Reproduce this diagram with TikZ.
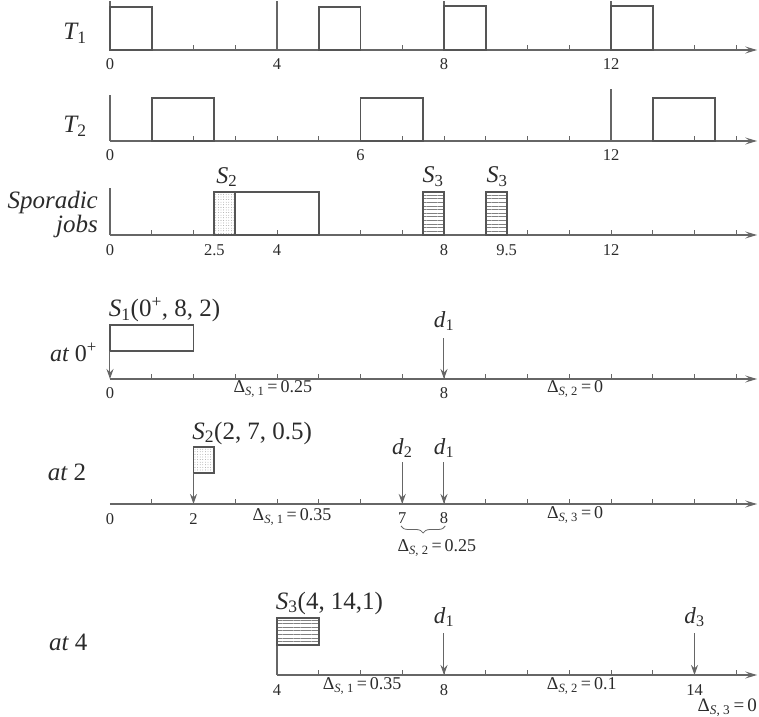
\documentclass[tikz,border=0pt]{standalone}
\usepackage{fontspec}
\setmainfont{Liberation Serif}
\usetikzlibrary{arrows.meta,patterns.meta,decorations.pathreplacing}
\definecolor{ln}{HTML}{666666}
\definecolor{bx}{HTML}{555555}
\definecolor{tx}{HTML}{2B2B2B}
\newcommand{\dlab}[2]{Δ\textsubscript{\textit{S}, #1}\,=\,#2}
\begin{document}
\begin{tikzpicture}[x=41.75pt,y=-1pt,
  axis/.style={draw=ln, line width=1.1pt, -{Stealth[length=12pt,width=7pt,inset=5pt]}},
  tick/.style={draw=ln, line width=0.9pt},
  rel/.style={draw=ln, line width=1.1pt},
  job/.style={draw=bx, line width=1.8pt},
  dotjob/.style={job, pattern={Dots[distance=2.6pt,radius=0.4pt]}, pattern color=gray},
  hatjob/.style={job, pattern={Lines[angle=0,distance=3.6pt,line width=0.5pt]}, pattern color=gray},
  darr/.style={draw=ln, line width=1pt, -{Stealth[length=10pt,width=7pt,inset=3.5pt]}},
  num/.style={text=tx, font=\fontsize{16.5}{18}\selectfont, inner sep=0pt},
  del/.style={text=tx, font=\fontsize{18}{20}\selectfont, inner sep=0pt},
  rowlab/.style={text=tx, font=\fontsize{25}{27}\selectfont\itshape, inner sep=0pt},
  slab/.style={text=tx, font=\fontsize{24}{26}\selectfont, inner sep=0pt},
  joblab/.style={text=tx, font=\fontsize{25}{27}\selectfont, inner sep=0pt},
  dl/.style={text=tx, font=\fontsize{23}{25}\selectfont, inner sep=0pt}]
\path[use as bounding box] (-2.6347,0) rectangle (15.545,717);

% ---------------- T1 ----------------
\node[rowlab] (lT1) at (-0.84,33) {T\textsubscript{\upshape 1}};
\draw[axis] (0,50) -- (15.5,50);
\foreach \t in {1,2,3,5,6,7,9,10,11,13,14,15} \draw[tick] (\t,50) -- (\t,45);
\foreach \t in {0,4,8,12} \draw[rel] (\t,50) -- (\t,1);
\foreach \t/\top in {0/7,5/7,8/6,12/6} \draw[job] (\t,\top) rectangle (\t+1,50);
\foreach \t in {0,4,8,12} \node[num] (a\t) at (\t,64) {\t};

% ---------------- T2 ----------------
\node[rowlab] (lT2) at (-0.84,126) {T\textsubscript{\upshape 2}};
\draw[axis] (0,141) -- (15.5,141);
\foreach \t in {1,...,11,13,14,15} \draw[tick] (\t,141) -- (\t,136);
\draw[rel] (0,141) -- (0,95);
\draw[rel] (12,141) -- (12,89);
\foreach \t in {1,6,13} \draw[job] (\t,98) rectangle (\t+1.5,141);
\foreach \t in {0,6,12} \node[num] (b\t) at (\t,155) {\t};

% ---------------- Sporadic ----------------
\node[rowlab, anchor=east] (lsp) at (-0.287,202) {Sporadic};
\node[rowlab, anchor=east] (ljb) at (-0.287,226) {jobs};
\draw[axis] (0,235) -- (15.5,235);
\foreach \t in {1,...,15} \draw[tick] (\t,235) -- (\t,230);
\draw[rel] (0,235) -- (0,188);
\draw[dotjob] (2.5,192) rectangle (3,235);
\draw[job] (3,192) rectangle (5,235);
\draw[hatjob] (7.5,192) rectangle (8,235);
\draw[hatjob] (9,192) rectangle (9.5,235);
\node[slab] (sS2) at (2.8,177) {\textit{S}\textsubscript{2}};
\node[slab] (sS3a) at (7.74,177) {\textit{S}\textsubscript{3}};
\node[slab] (sS3b) at (9.27,177) {\textit{S}\textsubscript{3}};
\foreach \t/\s in {0/0,2.5/2.5,4/4,8/8,9.5/9.5,12/12} \node[num] at (\t,250) {\s};

% ---------------- at 0+ ----------------
\node[rowlab, anchor=east, font=\fontsize{24}{26}\selectfont\itshape] (l0) at (-0.311,352) {at {\upshape 0\textsuperscript{+}}};
\draw[axis] (0,379) -- (15.5,379);
\foreach \t in {1,...,15} \draw[tick] (\t,379) -- (\t,374);
\draw[job] (0,325) rectangle (2,351);
\coordinate (s1b) at (0,351);
\coordinate (s1a) at (0,379);
\draw[darr] (s1b) -- (s1a);
\node[joblab, anchor=west] (jS1) at (-0.03,310) {\textit{S}\textsubscript{1}(0\textsuperscript{+}, 8, 2)};
\node[dl] (d1a) at (8,321) {\textit{d}\textsubscript{1}};
\coordinate (d1at) at (8,379);
\draw[darr] (8,338) -- (d1at);
\node[num] at (0,393) {0};
\node[num] at (8,393) {8};
\node[del] at (3.9,389) {\dlab{1}{0.25}};
\node[del] at (11.14,389) {\dlab{2}{0}};

% ---------------- at 2 ----------------
\node[rowlab] (l2) at (-1.03,472) {at {\upshape 2}};
\draw[axis] (0,504) -- (15.5,504);
\foreach \t in {1,...,15} \draw[tick] (\t,504) -- (\t,499);
\draw[dotjob] (2,447) rectangle (2.5,473);
\coordinate (s2b) at (2,473);
\coordinate (s2a) at (2,504);
\draw[darr] (s2b) -- (s2a);
\node[joblab, anchor=west] (jS2) at (1.97,433) {\textit{S}\textsubscript{2}(2, 7, 0.5)};
\node[dl] (d2b) at (7,448) {\textit{d}\textsubscript{2}};
\node[dl] (d1b) at (8,448) {\textit{d}\textsubscript{1}};
\coordinate (d2bt) at (7,504);
\coordinate (d1bt) at (8,504);
\draw[darr] (7,462) -- (d2bt);
\draw[darr] (8,462) -- (d1bt);
\node[num] at (0,519) {0};
\node[num] at (2,519) {2};
\node[num] (n7) at (7,518) {7};
\node[num] (n8) at (8,518) {8};
\node[del] at (4.36,517) {\dlab{1}{0.35}};
\node[del] at (11.14,515) {\dlab{3}{0}};
\draw[draw=ln, line width=0.8pt, decorate, decoration={brace, mirror, amplitude=7pt}] (6.97,526) -- (8.03,526);
\node[del] at (7.83,548) {\dlab{2}{0.25}};

% ---------------- at 4 ----------------
\node[rowlab] (l4) at (-1.0,642) {at {\upshape 4}};
\draw[axis] (4,675) -- (15.5,675);
\foreach \t in {5,...,15} \draw[tick] (\t,675) -- (\t,670);
\draw[rel] (4,675) -- (4,618);
\draw[hatjob] (4,618) rectangle (5,645);
\node[joblab, anchor=west] (jS3) at (3.97,603) {\textit{S}\textsubscript{3}(4, 14,1)};
\node[dl] (d1c) at (8,617) {\textit{d}\textsubscript{1}};
\node[dl] (d3c) at (14,617) {\textit{d}\textsubscript{3}};
\coordinate (d1ct) at (8,675);
\coordinate (d3ct) at (14,675);
\draw[darr] (8,633) -- (d1ct);
\draw[darr] (14,633) -- (d3ct);
\node[num] at (4,690) {4};
\node[num] at (8,690) {8};
\node[num] at (14,690) {14};
\node[del] at (6.04,686) {\dlab{1}{0.35}};
\node[del] at (11.3,686) {\dlab{2}{0.1}};
\node[del, anchor=east, font=\fontsize{19}{21}\selectfont] at (15.5,708) {\dlab{3}{0}};
\end{tikzpicture}
\end{document}
